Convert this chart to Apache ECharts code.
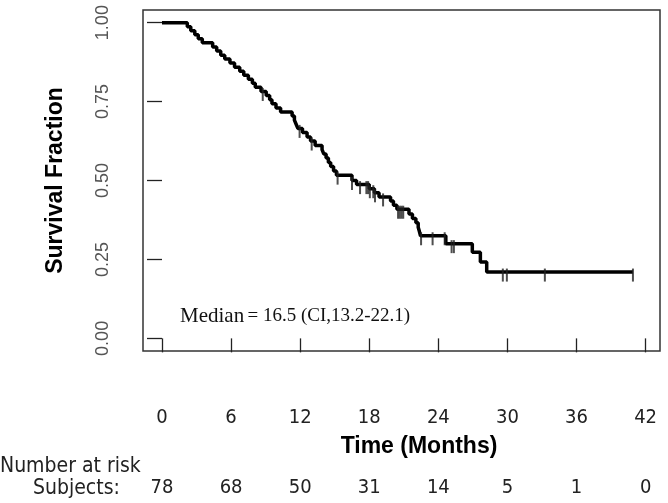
<!DOCTYPE html>
<html>
<head>
<meta charset="utf-8">
<script src="https://cdn.jsdelivr.net/npm/echarts@6/dist/echarts.min.js"></script>
<style>
  html, body { margin: 0; padding: 0; background: #fff; }
  #grf { width: 668px; height: 503px; }
</style>
</head>
<body>
<div id="grf"></div>
<script>
// Ticks e tabela de risco
var timeTicks  = [0, 6, 12, 18, 24, 30, 36, 42];
var riskCounts = [78, 68, 50, 31, 14, 5, 1, 0];
var survTicks  = [0, 0.25, 0.5, 0.75, 1];

// Curva Kaplan-Meier (tempo, sobrevida apos o degrau)
var stepTimes = [0, 2.2, 2.5, 2.85, 3.15, 3.5, 4.4, 4.75, 5.1, 5.45, 5.9, 6.3, 6.75, 7.1, 7.5, 7.85, 8.1, 8.6,
  9.05, 9.35, 9.55, 9.9, 10.3, 11.3, 11.5, 11.65, 11.8, 12.2, 12.6, 12.9, 13.3, 13.9, 14.05, 14.25, 14.45,
  14.65, 14.9, 15.15, 16.5, 16.9, 18.0, 18.45, 18.85, 19.85, 20.1, 20.4, 21.45, 21.75, 22.05, 22.25, 22.35,
  22.45, 24.65, 26.95, 27.65, 28.2, 40.9];
var stepSurv = [1, 0.987, 0.974, 0.962, 0.949, 0.936, 0.923, 0.910, 0.897, 0.885, 0.872, 0.859, 0.846, 0.833,
  0.821, 0.808, 0.795, 0.782, 0.769, 0.756, 0.743, 0.730, 0.717, 0.704, 0.691, 0.678, 0.665, 0.652, 0.638,
  0.625, 0.611, 0.598, 0.584, 0.571, 0.557, 0.544, 0.530, 0.517, 0.500, 0.487, 0.474, 0.461, 0.448, 0.435,
  0.422, 0.409, 0.394, 0.380, 0.366, 0.352, 0.339, 0.325, 0.300, 0.273, 0.242, 0.210, 0.210];

// Censuras
var censorTimes = [8.75, 11.95, 13.0, 15.25, 16.5, 17.2, 17.75, 17.9, 18.05, 18.35, 18.5, 19.2, 20.5, 20.65,
  20.8, 20.95, 22.5, 23.5, 24.55, 25.15, 25.35, 29.6, 29.95, 33.25, 40.9];
var censorSurv = [0.782, 0.665, 0.625, 0.517, 0.500, 0.487, 0.487, 0.487, 0.474, 0.474, 0.461, 0.448, 0.409,
  0.409, 0.409, 0.409, 0.325, 0.325, 0.325, 0.300, 0.300, 0.210, 0.210, 0.210, 0.210];

var grafico = echarts.init(document.getElementById('grf'));

var curva = stepTimes.map(function (t, i) { return [t, stepSurv[i]]; });
var censuras = censorTimes.map(function (t, i) { return [t, censorSurv[i]]; });

var fonteNarrow = "'Liberation Sans Narrow', 'DejaVu Sans Condensed', sans-serif";
var fonteSans = "'Liberation Sans', Arial, sans-serif";
var fonteSerif = "'Liberation Serif', 'Times New Roman', serif";

var opcoes = {
  animation: false,
  grid: {
    show: true,
    left: 143, top: 10, right: 8, bottom: 152,
    borderColor: '#333', borderWidth: 1.5,
    backgroundColor: '#fff'
  },
  xAxis: [{
    type: 'value',
    min: -1.65, max: 43.25,
    axisLine: { show: false },
    splitLine: { show: false },
    axisTick: { show: true, length: 14, customValues: timeTicks, lineStyle: { color: '#222', width: 1.3 } },
    axisLabel: {
      customValues: timeTicks, margin: 57,
      color: '#222', fontSize: 20, fontFamily: fonteNarrow
    }
  }, {
    // linha "Subjects:" da tabela de risco
    type: 'value',
    position: 'bottom',
    min: -1.65, max: 43.25,
    axisLine: { show: false },
    splitLine: { show: false },
    axisTick: { show: false },
    axisLabel: {
      customValues: timeTicks, margin: 127,
      color: '#222', fontSize: 20, fontFamily: fonteNarrow,
      formatter: function (v) { return String(riskCounts[timeTicks.indexOf(v)]); }
    }
  }],
  yAxis: {
    type: 'value',
    min: -0.04, max: 1.04,
    axisLine: { show: false },
    splitLine: { show: false },
    axisTick: { show: true, length: 15, customValues: survTicks, lineStyle: { color: '#222', width: 1.3 } },
    axisLabel: {
      customValues: survTicks, rotate: 90, margin: 31,
      color: '#555', fontSize: 18, fontFamily: fonteSans,
      formatter: function (v) { return v.toFixed(2); }
    },
    name: 'Survival Fraction',
    nameLocation: 'middle',
    nameRotate: 90,
    nameGap: 76,
    nameTextStyle: { fontSize: 23, fontWeight: 'bold', color: '#000', fontFamily: fonteSans }
  },
  graphic: [{
    type: 'text', x: 180, y: 316,
    style: {
      text: '{a|Median} {b|= 16.5 (CI,13.2-22.1)}',
      textVerticalAlign: 'middle',
      rich: {
        a: { fontSize: 21, fontFamily: fonteSerif, fill: '#111' },
        b: { fontSize: 19, fontFamily: fonteSerif, fill: '#111' }
      }
    }
  }, {
    type: 'text', x: 419, y: 447,
    style: { text: 'Time (Months)', textAlign: 'center', textVerticalAlign: 'middle',
      fontSize: 23, fontWeight: 'bold', fill: '#000', fontFamily: fonteSans }
  }, {
    type: 'text', x: 0, y: 467,
    style: { text: 'Number at risk', textVerticalAlign: 'middle', fontSize: 21, fill: '#222', fontFamily: fonteNarrow }
  }, {
    type: 'text', x: 33, y: 489,
    style: { text: 'Subjects:', textVerticalAlign: 'middle', fontSize: 21, fill: '#222', fontFamily: fonteNarrow }
  }],
  series: [{
    type: 'line',
    step: 'end',
    data: curva,
    showSymbol: false,
    lineStyle: { color: '#000', width: 3.5 },
    z: 3
  }, {
    type: 'scatter',
    data: censuras,
    symbol: 'rect',
    symbolSize: [2, 13],
    symbolOffset: [0, 3],
    itemStyle: { color: '#222' },
    z: 4
  }]
};

grafico.setOption(opcoes);
</script>
</body>
</html>
